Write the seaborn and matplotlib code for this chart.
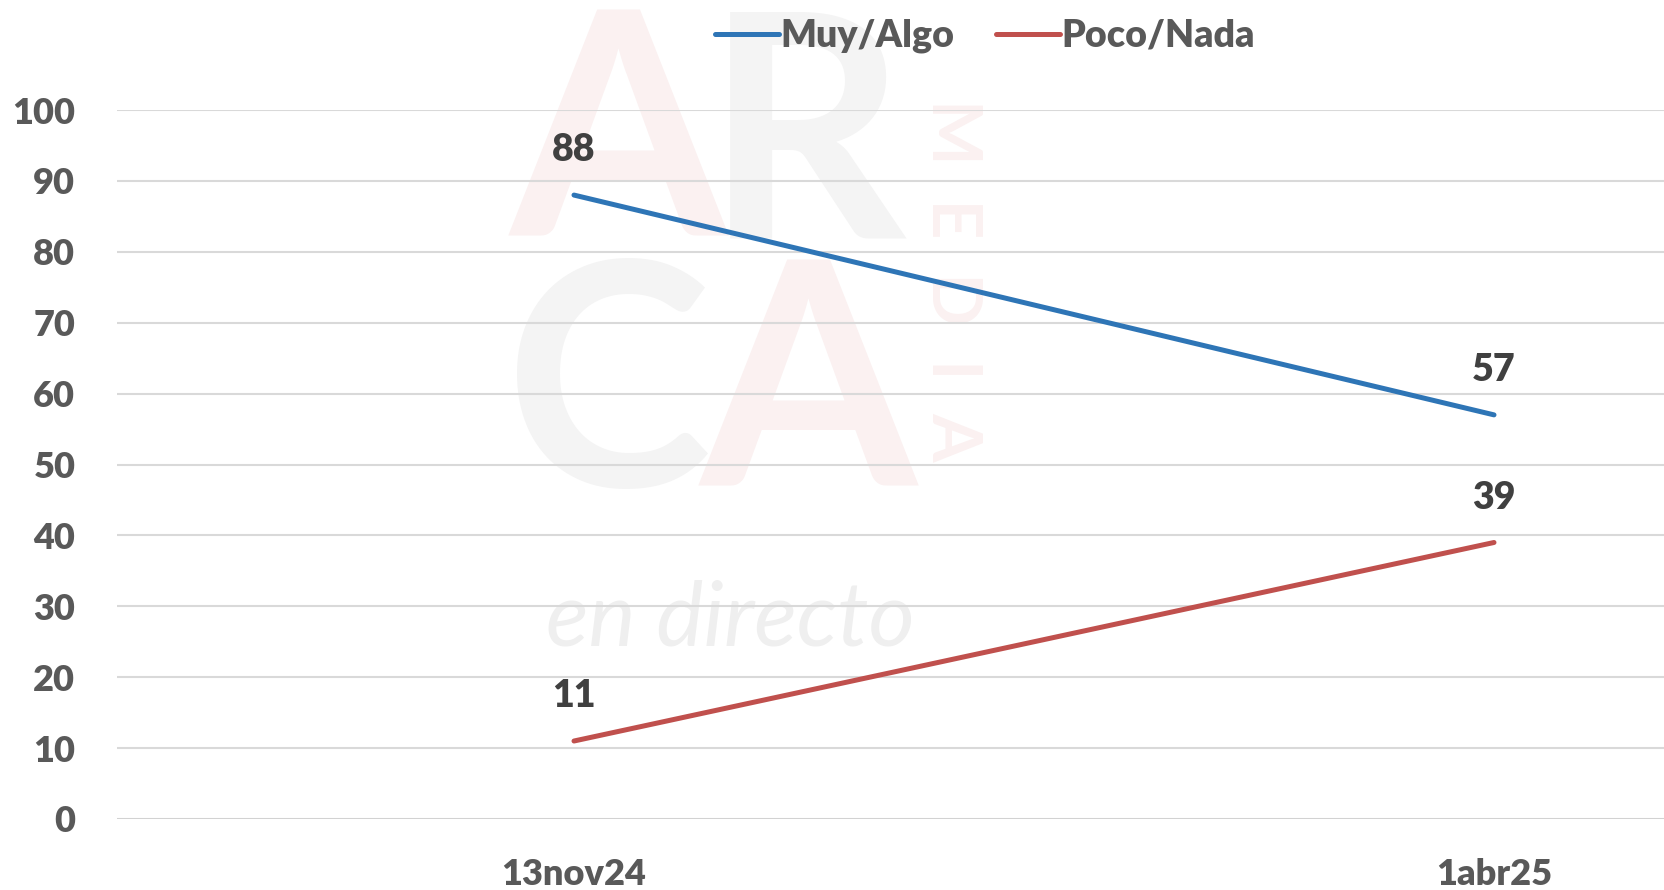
import matplotlib.pyplot as plt
import pandas as pd
import seaborn as sns
from matplotlib.lines import Line2D

fechas = ["13nov24", "1abr25"]
muy_algo = [88, 57]
poco_nada = [11, 39]
series = ["Muy/Algo", "Poco/Nada"]
colores = ["#2E75B6", "#C0504D"]
yticks = [0, 10, 20, 30, 40, 50, 60, 70, 80, 90, 100]

df = pd.DataFrame({
    "fecha": fechas * 2,
    "valor": muy_algo + poco_nada,
    "serie": [series[0]] * 2 + [series[1]] * 2,
})

sns.set_style("white")
plt.rcParams["font.family"] = ["Lato", "DejaVu Sans"]

W, H = 1664, 890
fig = plt.figure(figsize=(W / 100, H / 100), dpi=100)
ax = fig.add_axes([117 / W, 1 - 819 / H, 1 - 117 / W, (819 - 110) / H])


def px(x, y):
    return x / W, 1 - y / H


# faint watermark (logo), drawn under the grid
wm = dict(fontweight="bold", zorder=0.1, va="top", ha="left",
          transform=fig.transFigure, clip_on=False)
pink, grey = "#FBF1F1", "#F4F4F4"
ax.text(*px(510, 5), "A", fontsize=225, color=pink, **wm)
ax.text(*px(705, 5), "R", fontsize=225, color=grey, **wm)
ax.text(*px(505, 255), "C", fontsize=225, color=grey, **wm)
ax.text(*px(700, 255), "A", fontsize=225, color=pink, **wm)
ax.text(*px(952, 280), "M  E  D  I  A", fontsize=50, color=pink, rotation=-90,
        ha="center", va="center", fontweight="bold", zorder=0.1,
        transform=fig.transFigure, clip_on=False)
ax.text(*px(730, 620), "en directo", fontsize=64, color="#EFEFEF", style="italic",
        ha="center", va="center", zorder=0.1, transform=fig.transFigure, clip_on=False)

sns.lineplot(data=df, x="fecha", y="valor", hue="serie", palette=colores,
             linewidth=3.6, sort=False, legend=False, ax=ax, zorder=3)

# data labels above each point
for vals in (muy_algo, poco_nada):
    for i, v in enumerate(vals):
        ax.annotate(str(v), (i, v), xytext=(0, 20), textcoords="offset points",
                    ha="center", va="bottom", fontsize=27, fontweight="heavy",
                    color="#404040", zorder=4)

ax.set_ylim(0, 100)
ax.set_xlim(-0.5 + 3 / 920, -0.5 + (W - 114) / 920)
ax.set_yticks(yticks)
ax.set_xticks(range(len(fechas)))
ax.set_xticklabels(fechas)
ax.yaxis.grid(True, color="#D9D9D9", linewidth=1.5)
ax.set_axisbelow(True)
for s in ax.spines.values():
    s.set_visible(False)
ax.axhline(0, color="#D0D0D0", linewidth=1.8, zorder=1)
ax.set_facecolor("none")
ax.tick_params(axis="both", length=0, labelsize=26, labelcolor="#595959")
ax.tick_params(axis="y", pad=30)
ax.tick_params(axis="x", pad=28)
for t in ax.get_xticklabels() + ax.get_yticklabels():
    t.set_fontweight("heavy")
ax.set_xlabel("")
ax.set_ylabel("")

handles = [Line2D([], [], color=c, linewidth=3.6, solid_capstyle="round") for c in colores]
leg = fig.legend(handles, series, loc="center", bbox_to_anchor=(985 / W, 1 - 36 / H),
                 ncol=2, frameon=False, fontsize=27, handlelength=1.7,
                 handletextpad=0.05, columnspacing=1.1)
for t in leg.get_texts():
    t.set_color("#595959")
    t.set_fontweight("heavy")

fig.savefig("out.png", dpi=100, facecolor="white")
